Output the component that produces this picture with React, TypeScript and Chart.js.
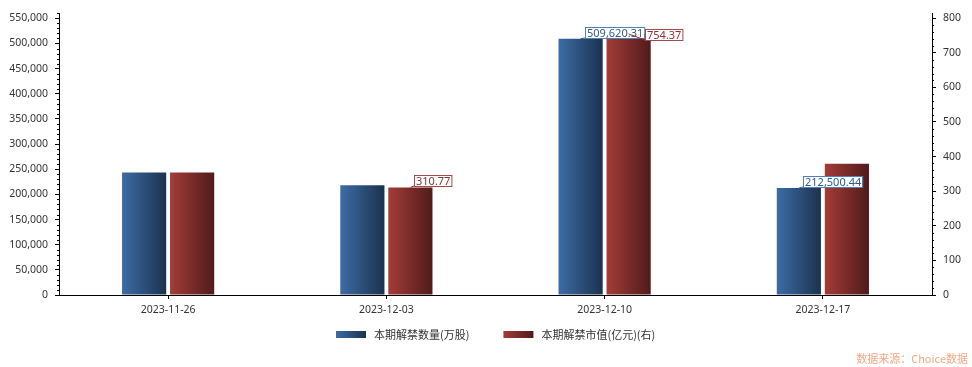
import { useEffect, useRef } from "react";
import { Chart, registerables } from "chart.js";

Chart.register(...registerables);

const categories = ["2023-11-26", "2023-12-03", "2023-12-10", "2023-12-17"];
const volumeValues = [243600, 218100, 509620.31, 212500.44];
const marketValues = [354, 310.77, 754.37, 379];
const volumeLabelShown = [false, false, true, true];
const marketLabelShown = [false, true, true, false];
const leftTicks = [0, 50000, 100000, 150000, 200000, 250000, 300000, 350000, 400000, 450000, 500000, 550000];
const rightTicks = [0, 100, 200, 300, 400, 500, 600, 700, 800];
const seriesNames = ["本期解禁数量(万股)", "本期解禁市值(亿元)(右)"];
const sourceText = "数据来源：Choice数据";

const LEFT_MAX = 560000;
const RIGHT_MAX = 814;
const CAT_PCT = 0.44;
const BAR_PCT = 0.92;

const BLUE_STOPS = ["#3c6ca5", "#1c324f"];
const RED_STOPS = ["#a43c37", "#4f1b1b"];

const TICK_FONT = { family: "'Noto Sans', sans-serif", size: 10.5 };
const CJK_FONT = "11px 'Noto Sans CJK SC', sans-serif";

function fmt(v: number, decimals: number) {
  return v.toLocaleString("en-US", { minimumFractionDigits: decimals, maximumFractionDigits: decimals });
}

function barGradient(c: any, stops: string[]) {
  const chart = c.chart;
  const xs = chart.scales && chart.scales.x;
  if (!xs || c.dataIndex === undefined || !xs.width) return stops[0];
  const center = xs.getPixelForValue(c.dataIndex);
  const catW = xs.width / categories.length;
  const slot = (catW * CAT_PCT) / 2;
  const bx = center + (c.datasetIndex - 0.5) * slot;
  const half = (slot * BAR_PCT) / 2;
  const g = chart.ctx.createLinearGradient(bx - half, 0, bx + half, 0);
  g.addColorStop(0, stops[0]);
  g.addColorStop(1, stops[1]);
  return g;
}

const decorPlugin = {
  id: "decor",
  afterDraw(chart: any) {
    const ctx = chart.ctx;
    const area = chart.chartArea;
    const yl = chart.scales.y;
    const yr = chart.scales.y1;
    ctx.save();
    // minor ticks
    ctx.strokeStyle = "#000";
    ctx.lineWidth = 1;
    ctx.beginPath();
    for (let v = 10000; v <= LEFT_MAX; v += 10000) {
      if (v % 50000 === 0) continue;
      const y = Math.round(yl.getPixelForValue(v)) + 0.5;
      ctx.moveTo(area.left - 2, y);
      ctx.lineTo(area.left, y);
    }
    for (let v = 20; v <= RIGHT_MAX; v += 20) {
      if (v % 100 === 0) continue;
      const y = Math.round(yr.getPixelForValue(v)) + 0.5;
      ctx.moveTo(area.right, y);
      ctx.lineTo(area.right + 2, y);
    }
    ctx.stroke();

    // data labels
    ctx.font = "11px 'Noto Sans', sans-serif";
    ctx.textBaseline = "middle";
    ctx.textAlign = "left";
    categories.forEach((_, i) => {
      const items = [
        { ds: 0, show: volumeLabelShown[i], text: fmt(volumeValues[i], 2), color: "#2b5a8e", border: "#4f7fb5" },
        { ds: 1, show: marketLabelShown[i], text: fmt(marketValues[i], 2), color: "#8c3030", border: "#a24a4a" },
      ];
      let prevRight = -Infinity;
      items.forEach((it) => {
        if (!it.show) return;
        const bar = chart.getDatasetMeta(it.ds).data[i];
        const bx = bar.x;
        const by = bar.y;
        const w = ctx.measureText(it.text).width + 3;
        const h = 11;
        let left = Math.round(bx + 4);
        let top = Math.round(by - h - 1);
        if (left < prevRight) {
          left = Math.round(prevRight);
          top = Math.round(by - h / 2 + 1);
        }
        ctx.strokeStyle = it.color;
        ctx.beginPath();
        ctx.moveTo(bx, by);
        ctx.lineTo(left, top + h);
        ctx.stroke();
        ctx.fillStyle = "#fff";
        ctx.fillRect(left, top, w, h);
        ctx.strokeStyle = it.border;
        ctx.strokeRect(left + 0.5, top + 0.5, w, h);
        ctx.fillStyle = it.color;
        ctx.fillText(it.text, left + 2, top + h / 2 + 1);
        prevRight = left + w + 1;
      });
    });

    // legend
    ctx.font = CJK_FONT;
    const sw = 30;
    const sh = 7;
    const gapText = 8;
    const gapItem = 34;
    const widths = seriesNames.map((n) => ctx.measureText(n).width);
    const total = widths.reduce((a, b) => a + b, 0) + seriesNames.length * (sw + gapText) + gapItem * (seriesNames.length - 1);
    let lx = Math.round((area.left + area.right) / 2 - total / 2);
    const ly = 334;
    seriesNames.forEach((n, k) => {
      const stops = k === 0 ? BLUE_STOPS : RED_STOPS;
      const g = ctx.createLinearGradient(lx, 0, lx + sw, 0);
      g.addColorStop(0, stops[0]);
      g.addColorStop(1, stops[1]);
      ctx.fillStyle = g;
      ctx.fillRect(lx, ly - 3, sw, sh);
      ctx.fillStyle = "#333";
      ctx.textBaseline = "middle";
      ctx.fillText(n, lx + sw + gapText, ly + 1);
      lx += sw + gapText + widths[k] + gapItem;
    });

    // source
    ctx.font = CJK_FONT;
    ctx.fillStyle = "#f4a882";
    ctx.textAlign = "right";
    ctx.fillText(sourceText, 968, 359);
    ctx.restore();
  },
};

export default function App() {
  const ref = useRef<HTMLCanvasElement | null>(null);
  useEffect(() => {
    document.body.style.margin = "0";
    const canvas = ref.current;
    if (!canvas) return;
    const chart = new Chart(canvas, {
      type: "bar",
      data: {
        labels: categories,
        datasets: [
          {
            label: seriesNames[0],
            data: volumeValues,
            yAxisID: "y",
            backgroundColor: (c: any) => barGradient(c, BLUE_STOPS),
            borderWidth: 0,
            categoryPercentage: CAT_PCT,
            barPercentage: BAR_PCT,
          },
          {
            label: seriesNames[1],
            data: marketValues,
            yAxisID: "y1",
            backgroundColor: (c: any) => barGradient(c, RED_STOPS),
            borderWidth: 0,
            categoryPercentage: CAT_PCT,
            barPercentage: BAR_PCT,
          },
        ],
      },
      options: {
        responsive: false,
        animation: false,
        devicePixelRatio: 1,
        layout: { padding: { top: 10, left: 0, right: 0, bottom: 0 } },
        plugins: { legend: { display: false }, tooltip: { enabled: false }, title: { display: false } },
        scales: {
          x: {
            type: "category",
            offset: true,
            grid: { display: true, drawOnChartArea: false, drawTicks: true, tickLength: 4, color: "#000", offset: false },
            border: { display: true, color: "#000" },
            ticks: { color: "#333", font: TICK_FONT, padding: 5, maxRotation: 0 },
            afterFit: (s: any) => {
              s.height = 72;
            },
          },
          y: {
            type: "linear",
            position: "left",
            min: 0,
            max: LEFT_MAX,
            grid: { display: true, drawOnChartArea: false, drawTicks: true, tickLength: 4, color: "#000" },
            border: { display: true, color: "#000" },
            ticks: { color: "#333", font: TICK_FONT, padding: 7, callback: (v: any) => fmt(Number(v), 0) },
            afterBuildTicks: (s: any) => {
              s.ticks = leftTicks.map((v) => ({ value: v }));
            },
            afterFit: (s: any) => {
              s.width = 59;
            },
          },
          y1: {
            type: "linear",
            position: "right",
            min: 0,
            max: RIGHT_MAX,
            grid: { display: true, drawOnChartArea: false, drawTicks: true, tickLength: 4, color: "#000" },
            border: { display: true, color: "#000" },
            ticks: { color: "#333", font: TICK_FONT, padding: 7, callback: (v: any) => String(v) },
            afterBuildTicks: (s: any) => {
              s.ticks = rightTicks.map((v) => ({ value: v }));
            },
            afterFit: (s: any) => {
              s.width = 40;
            },
          },
        },
      },
      plugins: [decorPlugin],
    } as any);
    return () => chart.destroy();
  }, []);
  return (
    <div style={{ position: "absolute", left: 0, top: 0, width: 972, height: 367, background: "#fff" }}>
      <canvas ref={ref} width={972} height={367} style={{ display: "block" }} />
    </div>
  );
}
